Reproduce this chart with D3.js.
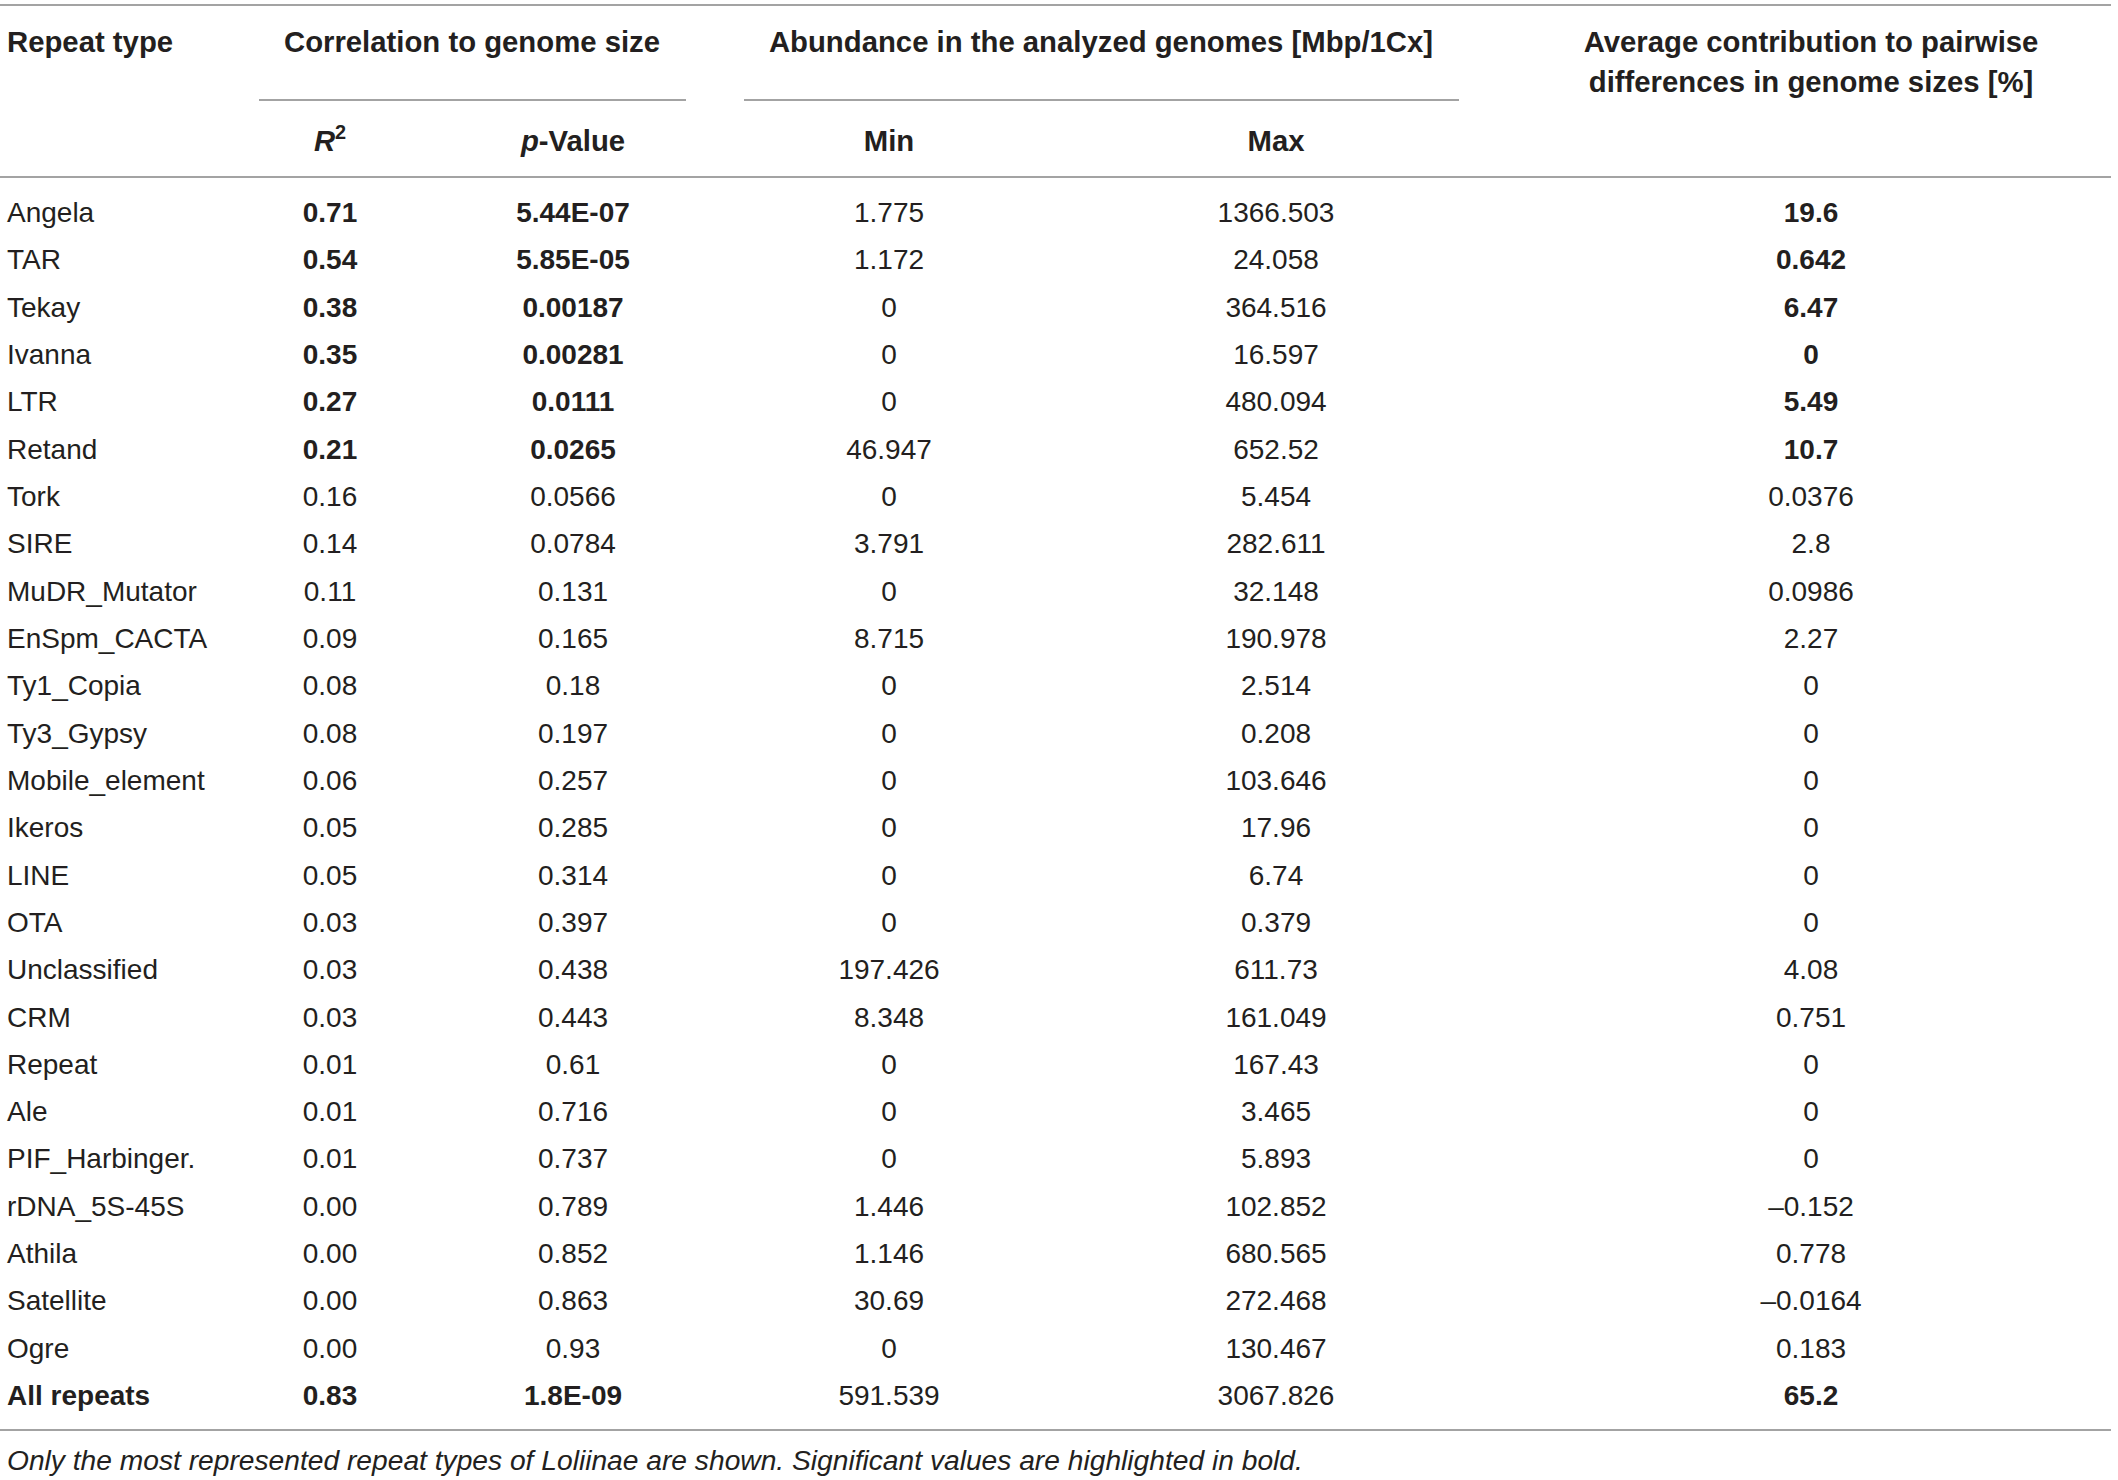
<!DOCTYPE html>
<html>
<head>
<meta charset="utf-8">
<script src="https://cdn.jsdelivr.net/npm/d3@7"></script>
<style>
  html, body { margin: 0; padding: 0; background: #fff; }
  svg { display: block; }
  text { font-family: "Liberation Sans", Arial, sans-serif; fill: #231f20; }
</style>
</head>
<body>
<script>
// ---------- data ----------
const repeatTypes = ["Angela","TAR","Tekay","Ivanna","LTR","Retand","Tork","SIRE","MuDR_Mutator","EnSpm_CACTA","Ty1_Copia","Ty3_Gypsy","Mobile_element","Ikeros","LINE","OTA","Unclassified","CRM","Repeat","Ale","PIF_Harbinger.","rDNA_5S-45S","Athila","Satellite","Ogre","All repeats"];
const r2Values = ["0.71","0.54","0.38","0.35","0.27","0.21","0.16","0.14","0.11","0.09","0.08","0.08","0.06","0.05","0.05","0.03","0.03","0.03","0.01","0.01","0.01","0.00","0.00","0.00","0.00","0.83"];
const pValues = ["5.44E-07","5.85E-05","0.00187","0.00281","0.0111","0.0265","0.0566","0.0784","0.131","0.165","0.18","0.197","0.257","0.285","0.314","0.397","0.438","0.443","0.61","0.716","0.737","0.789","0.852","0.863","0.93","1.8E-09"];
const minAbundance = ["1.775","1.172","0","0","0","46.947","0","3.791","0","8.715","0","0","0","0","0","0","197.426","8.348","0","0","0","1.446","1.146","30.69","0","591.539"];
const maxAbundance = ["1366.503","24.058","364.516","16.597","480.094","652.52","5.454","282.611","32.148","190.978","2.514","0.208","103.646","17.96","6.74","0.379","611.73","161.049","167.43","3.465","5.893","102.852","680.565","272.468","130.467","3067.826"];
const avgContribution = ["19.6","0.642","6.47","0","5.49","10.7","0.0376","2.8","0.0986","2.27","0","0","0","0","0","0","4.08","0.751","0","0","0","–0.152","0.778","–0.0164","0.183","65.2"];
const significant = [true,true,true,true,true,true,false,false,false,false,false,false,false,false,false,false,false,false,false,false,false,false,false,false,false,true];
const columnKeys = ["type","r2","p","min","max","avg"];
const groupHeaders = ["Correlation to genome size","Abundance in the analyzed genomes [Mbp/1Cx]"];
const footnote = "Only the most represented repeat types of Loliinae are shown. Significant values are highlighted in bold.";

// ---------- layout ----------
const W = 2118, H = 1480, FS = 28, HFS = 29.3;
const svg = d3.select("body").append("svg").attr("width", W).attr("height", H);

const x = d3.scaleOrdinal().domain(columnKeys).range([7, 330, 573, 889, 1276, 1811]);
const y = d3.scalePoint().domain(repeatTypes).range([212, 1395]);
const base = (c, fs = FS) => c + fs * 0.36;
const lineColor = "#a3a3a3";

function hline(x1, x2, yy) {
  svg.append("line").attr("x1", x1).attr("x2", x2).attr("y1", yy).attr("y2", yy)
    .attr("stroke", lineColor).attr("stroke-width", 2);
}

// rules
hline(0, 2111, 5);
hline(259, 686, 100);
hline(744, 1459, 100);
hline(0, 2111, 177);
hline(0, 2111, 1430);

// header text
const hdr = svg.append("g").attr("font-weight", "bold").attr("font-size", HFS);
hdr.append("text").attr("x", x("type")).attr("y", base(41, HFS)).text("Repeat type");
hdr.append("text").attr("x", 472).attr("y", base(41, HFS)).attr("text-anchor", "middle").text(groupHeaders[0]);
hdr.append("text").attr("x", 1101).attr("y", base(41, HFS)).attr("text-anchor", "middle").text(groupHeaders[1]);
hdr.append("text").attr("x", x("avg")).attr("y", base(41, HFS)).attr("text-anchor", "middle").text("Average contribution to pairwise");
hdr.append("text").attr("x", x("avg")).attr("y", base(81, HFS)).attr("text-anchor", "middle").text("differences in genome sizes [%]");

const r2t = hdr.append("text").attr("x", x("r2")).attr("y", base(140.5, HFS)).attr("text-anchor", "middle");
r2t.append("tspan").attr("font-style", "italic").text("R");
r2t.append("tspan").attr("font-size", HFS * 0.68).attr("dy", -12).text("2");
const pt = hdr.append("text").attr("x", x("p")).attr("y", base(140.5, HFS)).attr("text-anchor", "middle");
pt.append("tspan").attr("font-style", "italic").text("p");
pt.append("tspan").text("-Value");
hdr.append("text").attr("x", x("min")).attr("y", base(140.5, HFS)).attr("text-anchor", "middle").text("Min");
hdr.append("text").attr("x", x("max")).attr("y", base(140.5, HFS)).attr("text-anchor", "middle").text("Max");

// body rows
const rows = repeatTypes.map((t, i) => ({
  type: t, r2: r2Values[i], p: pValues[i], min: minAbundance[i],
  max: maxAbundance[i], avg: avgContribution[i], sig: significant[i], last: i === repeatTypes.length - 1
}));

const rowG = svg.append("g").attr("font-size", FS).selectAll("g").data(rows).join("g")
  .attr("transform", d => `translate(0,${base(y(d.type))})`);

columnKeys.forEach(k => {
  rowG.append("text")
    .attr("x", x(k))
    .attr("text-anchor", k === "type" ? "start" : "middle")
    .attr("font-weight", d => {
      if (k === "type") return d.last ? "bold" : "normal";
      if (k === "r2" || k === "p" || k === "avg") return d.sig ? "bold" : "normal";
      return "normal";
    })
    .text(d => d[k]);
});

// footnote
svg.append("text").attr("x", 7).attr("y", base(1460)).attr("font-size", 28.2)
  .attr("font-style", "italic").text(footnote);
</script>
</body>
</html>
